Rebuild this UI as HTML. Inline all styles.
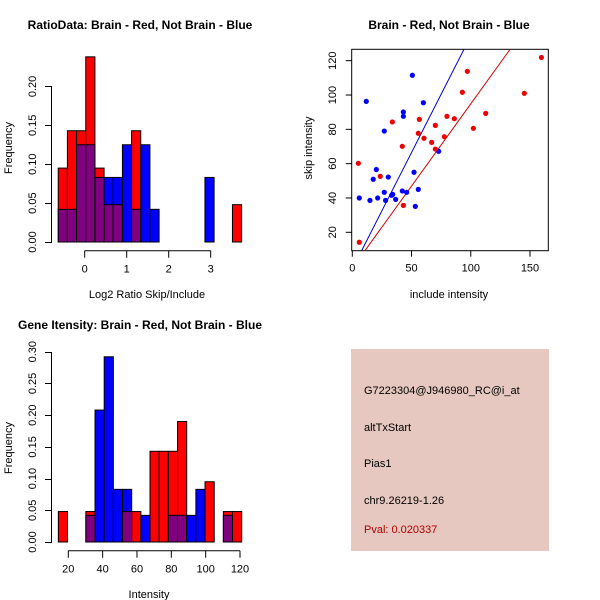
<!DOCTYPE html>
<html><head><meta charset="utf-8"><style>
body{margin:0;background:#fff}
svg{display:block;font-family:"Liberation Sans",sans-serif}
.ax{position:absolute;background:#000}
</style></head><body>
<svg id="c" width="600" height="600" xmlns="http://www.w3.org/2000/svg"></svg>
<script>
// Ratio histogram data
const ratioBinStart = -0.63, ratioBinWidth = 0.2183;
const ratioRed  = [0.095,0.143,0.143,0.238,0.095,0.048,0.048,0,0.143,0,0,0,0,0,0,0,0,0,0,0.048];
const ratioBlue = [0.042,0.042,0.125,0.125,0.083,0.083,0.083,0.125,0.042,0.125,0.042,0,0,0,0,0,0.083,0,0,0];
const ratioXTicks = [0,1,2,3];
const ratioYTicks = ["0.00","0.05","0.10","0.15","0.20"];
// Intensity histogram data
const intBinStart = 14.2, intBinWidth = 5.34;
const intRed  = [0.048,0,0,0.048,0,0,0,0.048,0.048,0,0.143,0.143,0.143,0.190,0,0,0.095,0,0.048,0.048];
const intBlue = [0,0,0,0.042,0.208,0.292,0.083,0.083,0,0.042,0,0,0.042,0.042,0.042,0.083,0,0,0.042,0];
const intXTicks = [20,40,60,80,100,120];
const intYTicks = ["0.00","0.05","0.10","0.15","0.20","0.25","0.30"];
// Scatter data
const blueX = [11.8,50.7,60.0,43.1,43.1,27.0,20.3,17.7,30.4,52.1,5.9,14.9,21.4,27.0,28.1,33.2,34.1,36.6,42.2,45.9,53.2,55.7,72.9];
const blueY = [96.3,111.5,95.5,90.1,87.6,79.0,56.6,50.9,52.2,55.0,40.0,38.6,40.0,43.3,38.6,41.6,42.1,39.2,44.1,43.3,35.1,45.0,67.2];
const redX = [5.1,5.9,23.6,33.8,42.2,43.1,55.7,56.6,60.5,67.0,70.1,70.1,77.7,79.9,86.1,92.9,97.1,102.2,112.6,145.2,159.6];
const redY = [60.2,14.2,52.6,84.3,70.1,35.7,77.7,85.8,74.8,72.4,82.3,68.5,75.7,87.6,86.2,101.6,113.8,80.6,89.3,101.0,121.9];
const blueLine = [1.358,-1.4]; // slope, intercept
const redLine = [0.958,-0.95];
const scXTicks = [0,50,100,150];
const scYTicks = [20,40,60,80,100,120];

const svg = document.getElementById('c');
const NS = 'http://www.w3.org/2000/svg';
function mk(tag, attrs, parent){const e=document.createElementNS(NS,tag);for(const k in attrs)e.setAttribute(k,attrs[k]);(parent||svg).appendChild(e);return e;}
function txt(x,y,s,attrs,parent){const e=mk('text',Object.assign({x:x,y:y},attrs||{}),parent);e.textContent=s;return e;}
function hdiv(l,t,w,h){const d=document.createElement('div');d.className='ax';d.style.left=l+'px';d.style.top=t+'px';d.style.width=w+'px';d.style.height=h+'px';
  
  
  document.body.appendChild(d);}

function hist(opts){
  const g=mk('g',{});
  
  
  const sx=v=>opts.x0px+(v-opts.x0)*opts.xs;
  const sy=v=>opts.y0px-v*opts.ys;
  for(let i=0;i<opts.red.length;i++){
    const a=opts.binStart+i*opts.binW,b=a+opts.binW;
    const r=opts.red[i],bl=opts.blue[i];
    const hi=Math.max(r,bl),lo=Math.min(r,bl);
    if(hi<=0)continue;
    const col=r>=bl?'#ff0000':'#0000ff';
    const b1=mk('rect',{x:sx(a),y:sy(hi),width:sx(b)-sx(a),height:sy(0)-sy(hi),fill:col,stroke:'#000','stroke-width':1},g);
    
    
    if(lo>0){
      const b2=mk('rect',{x:sx(a),y:sy(lo),width:sx(b)-sx(a),height:sy(0)-sy(lo),fill:'#800080',stroke:'#000','stroke-width':1},g);
      
      
    }
  }
  const yt=opts.yTicks;
  const ax=mk('g',{},g);
  
  
  const yTop=sy(parseFloat(yt[yt.length-1])), yBot=sy(0);
  hdiv(51,Math.round(yTop),1,Math.round(yBot-yTop)+1);
  yt.forEach(t=>{const y=sy(parseFloat(t));
    hdiv(45,Math.round(y),7,1);
    const e=txt(36,y,t,{'font-size':11,'text-anchor':'middle',transform:'rotate(-90 36 '+y+')',fill:'#000'},ax);
    });
  const xa=mk('g',{},g);
  
  
  const xy=opts.y0px+8.7;
  const xt=opts.xTicks;
  mk('line',{x1:sx(xt[0]),x2:sx(xt[xt.length-1]),y1:xy,y2:xy,stroke:'#000','stroke-width':1},xa);
  xt.forEach(t=>{const x=sx(t);mk('line',{x1:x,x2:x,y1:xy,y2:xy+7,stroke:'#000','stroke-width':1},xa);
    const e=txt(x,xy+22,String(t),{'font-size':11,'text-anchor':'middle',fill:'#000'},xa);
    });
}

hist({name:'ratio-histogram',red:ratioRed,blue:ratioBlue,binStart:ratioBinStart,binW:ratioBinWidth,
  x0:0,x0px:84.7,xs:42,y0px:242,ys:778,xTicks:ratioXTicks,yTicks:ratioYTicks});
hist({name:'intensity-histogram',red:intRed,blue:intBlue,binStart:intBinStart,binW:intBinWidth,
  x0:20,x0px:68.3,xs:1.717,y0px:542,ys:634.3,xTicks:intXTicks,yTicks:intYTicks});

[[140,29,'RatioData: Brain - Red, Not Brain - Blue','title-ratio'],
 [449,29,'Brain - Red, Not Brain - Blue','title-scatter'],
 [140,329,'Gene Itensity: Brain - Red, Not Brain - Blue','title-intensity']].forEach(a=>{
  const e=txt(a[0],a[1],a[2],{'font-size':12,'font-weight':'bold','text-anchor':'middle'});
  });
[[147,298,'Log2 Ratio Skip/Include','x-axis-title-ratio'],[449,298,'include intensity','x-axis-title-scatter'],[149,598,'Intensity','x-axis-title-intensity']].forEach(a=>{
  const e=txt(a[0],a[1],a[2],{'font-size':11,'text-anchor':'middle'});
  });
[[12,148,'Frequency','y-axis-title-ratio'],[312,148,'skip intensity','y-axis-title-scatter'],[12,448,'Frequency','y-axis-title-intensity']].forEach(a=>{
  const e=txt(a[0],a[1],a[2],{'font-size':11,'text-anchor':'middle',transform:'rotate(-90 '+a[0]+' '+a[1]+')'});
  });

// scatter
const L=351.7,R=548.3,T=49.3,B=250.7;
const px=v=>352.3+v*1.1847, py=v=>232.3-(v-20)*1.716;
const sg=mk('g',{});


mk('defs',{},sg).innerHTML='<clipPath id="cp"><rect x="'+L+'" y="'+T+'" width="'+(R-L)+'" height="'+(B-T)+'"/></clipPath>';
const box=mk('rect',{x:L,y:T,width:R-L,height:B-T,fill:'none',stroke:'#000'},sg);

function fitLine(p,col,name){const x1=-10,x2=200;
  const l=mk('line',{x1:px(x1),y1:py(p[0]*x1+p[1]),x2:px(x2),y2:py(p[0]*x2+p[1]),stroke:col,'stroke-width':1,'clip-path':'url(#cp)'},sg);
  }
fitLine(blueLine,'#0000cc','fit-line-blue');
fitLine(redLine,'#cc0000','fit-line-red');
blueX.forEach((x,i)=>{const c=mk('circle',{cx:px(x),cy:py(blueY[i]),r:2.6,fill:'#0000ff'},sg);
  });
redX.forEach((x,i)=>{const c=mk('circle',{cx:px(x),cy:py(redY[i]),r:2.6,fill:'#ee0000'},sg);
  });
scXTicks.forEach(t=>{const x=px(t);mk('line',{x1:x,x2:x,y1:B,y2:B+6,stroke:'#000'},sg);
  const e=txt(x,B+21,String(t),{'font-size':11,'text-anchor':'middle'},sg);
  });
scYTicks.forEach(t=>{const y=py(t);mk('line',{x1:L-6,x2:L,y1:y,y2:y,stroke:'#000'},sg);
  const e=txt(336,y,String(t),{'font-size':11,'text-anchor':'middle',transform:'rotate(-90 336 '+y+')'},sg);
  });
</script>
<div style="position:absolute;left:351px;top:349px;width:198px;height:202px;background:#e6c8c0;font-family:'Liberation Sans',sans-serif;font-size:11px;color:#000">
<div style="position:absolute;left:13px;top:36px">G7223304@J946980_RC@i_at</div>
<div style="position:absolute;left:13px;top:73px">altTxStart</div>
<div style="position:absolute;left:13px;top:109px">Pias1</div>
<div style="position:absolute;left:13px;top:146px">chr9.26219-1.26</div>
<div style="position:absolute;left:13px;top:175px;color:#b00000">Pval: 0.020337</div>
</div>
</body></html>
